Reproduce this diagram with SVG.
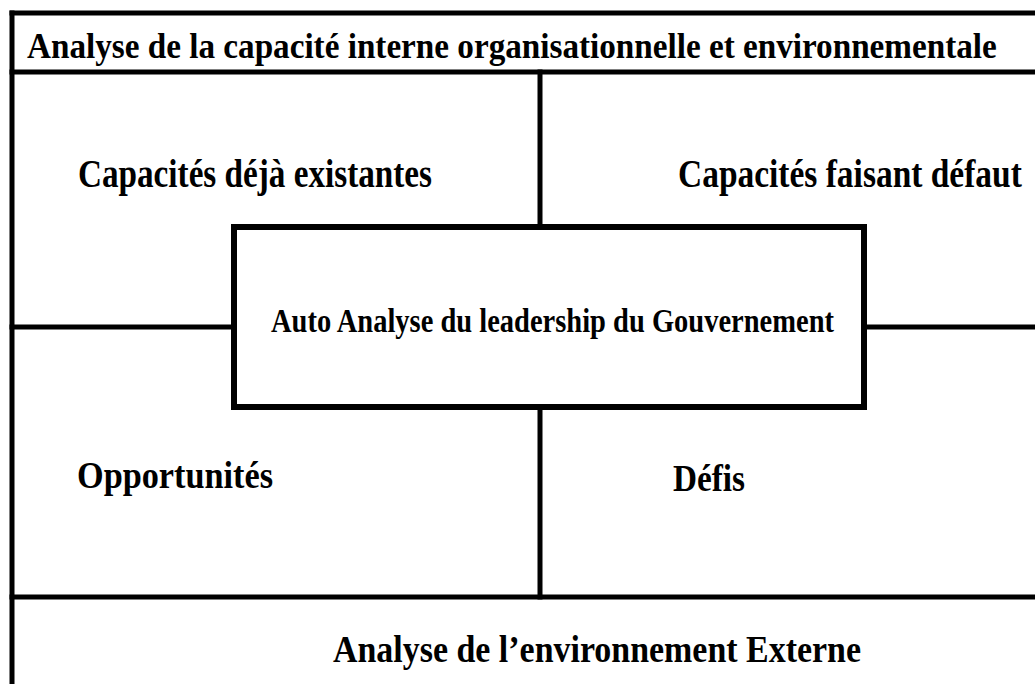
<svg xmlns="http://www.w3.org/2000/svg" width="1035" height="684" viewBox="0 0 1035 684">
<style>
.t{font-family:"Liberation Serif","Times New Roman",serif;font-weight:bold;fill:#000}
.ln{stroke:#000;stroke-width:5;fill:none;stroke-linecap:square}
</style>
<rect width="1035" height="684" fill="#fff"/>
<g id="frame">
<line class="ln" x1="12" y1="13" x2="1040" y2="13"/>
<line class="ln" x1="12" y1="13" x2="12" y2="690"/>
<line class="ln" x1="12" y1="72" x2="1040" y2="72"/>
<line class="ln" x1="12" y1="597" x2="1040" y2="597"/>
</g>
<g id="connectors">
<line class="ln" x1="540" y1="72" x2="540" y2="227"/>
<line class="ln" x1="540" y1="407" x2="540" y2="597"/>
<line class="ln" x1="12" y1="327" x2="234" y2="327"/>
<line class="ln" x1="864" y1="327" x2="1040" y2="327"/>
</g>
<g id="title">
<text class="t" x="0" y="0" font-size="36" transform="translate(27,58) scale(0.922,1)">Analyse de la capacité interne organisationnelle et environnementale</text>
</g>
<g id="existantes">
<text class="t" x="78" y="187" font-size="39" textLength="354" lengthAdjust="spacingAndGlyphs">Capacités déjà existantes</text>
</g>
<g id="defaut">
<text class="t" x="0" y="0" font-size="39" transform="translate(678,187) scale(0.858,1)">Capacités faisant défaut</text>
</g>
<g id="center">
<rect x="234" y="227" width="630" height="180" fill="#fff" stroke="#000" stroke-width="6"/>
<text class="t" x="271" y="332" font-size="34" textLength="563" lengthAdjust="spacingAndGlyphs">Auto Analyse du leadership du Gouvernement</text>
</g>
<g id="opportunites">
<text class="t" x="77" y="488" font-size="38" textLength="196" lengthAdjust="spacingAndGlyphs">Opportunités</text>
</g>
<g id="defis">
<text class="t" x="673" y="491" font-size="38" textLength="72" lengthAdjust="spacingAndGlyphs">Défis</text>
</g>
<g id="externe">
<text class="t" x="333" y="662" font-size="37" textLength="528" lengthAdjust="spacingAndGlyphs">Analyse de l’environnement Externe</text>
</g>
</svg>
